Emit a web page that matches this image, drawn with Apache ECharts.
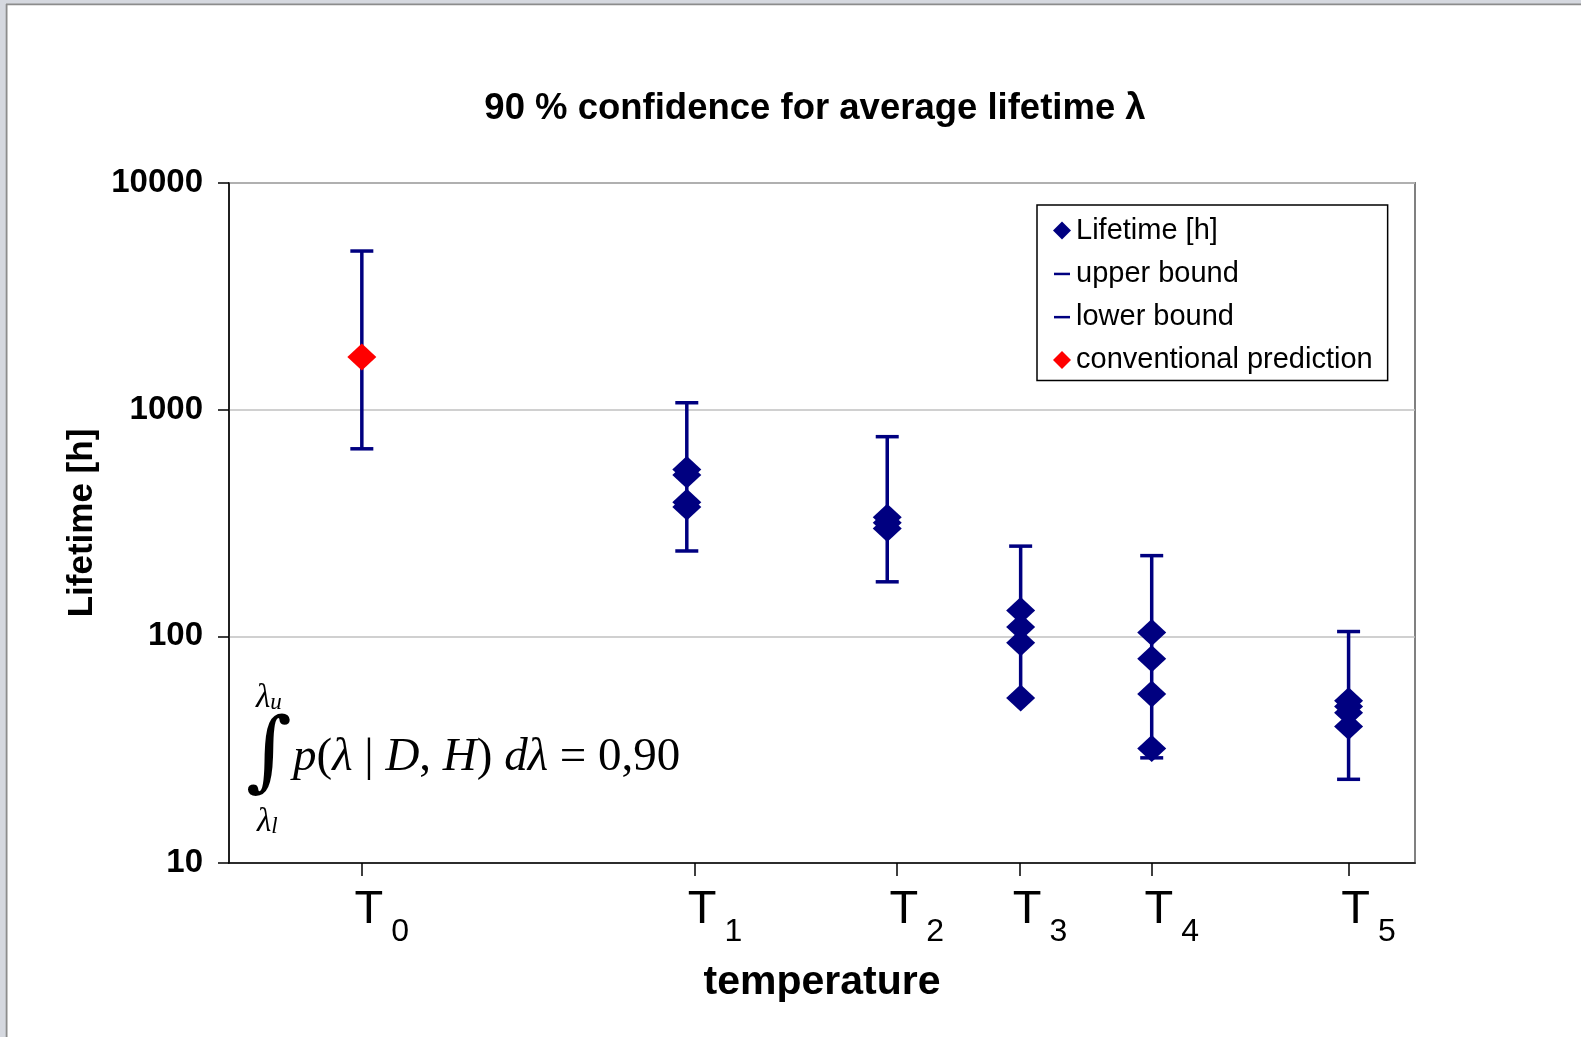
<!DOCTYPE html>
<html>
<head>
<meta charset="utf-8">
<script src="https://cdn.jsdelivr.net/npm/echarts@6/dist/echarts.min.js"></script>
<style>
  html, body { margin: 0; padding: 0; background: #fff; }
  #chart { width: 1581px; height: 1037px; }
</style>
</head>
<body>
<div id="chart"></div>
<script>
// x positions on a 0..100 temperature scale (ticks T0..T5)
const tickPos = [11.2, 39.3, 56.3, 66.7, 77.8, 94.4]
const tickSub = ['0', '1', '2', '3', '4', '5']
// x positions where the measurements are drawn
const pointX = [11.2, 38.6, 55.5, 66.75, 77.8, 94.4]

const upperBound = [5010, 1073, 760, 250, 227, 105]
const lowerBound = [672, 238, 174, 54, 29.1, 23.4]
const conventional = [1706]   // only at T0

// measured lifetimes [h] for each temperature
const lifetimes = [
  [],
  [545, 515, 390, 372],
  [335, 317, 299],
  [130, 110, 93.6, 53.5],
  [104, 79.6, 55.6, 32],
  [52, 49, 46, 40]
]

const NAVY = '#000080'
const SANS = "'Liberation Sans', Arial, sans-serif"
const SERIF = "'Liberation Serif', 'Times New Roman', serif"

const lifetimePts = []
lifetimes.forEach((arr, i) => arr.forEach(v => lifetimePts.push([pointX[i], v])))

// dash icon with a square bounding box so the legend does not stretch it
const dashIcon = 'path://M0,0L0,0M1,8L17,8L17,10.5L1,10.5ZM18,18L18,18'

const chart = echarts.init(document.getElementById('chart'))

chart.setOption({
  animation: false,
  backgroundColor: '#fff',
  title: {
    text: '90 % confidence for average lifetime λ',
    left: 815,
    top: 90,
    textAlign: 'center',
    padding: 0,
    textStyle: { fontFamily: SANS, fontSize: 36.5, fontWeight: 'bold', color: '#000' }
  },
  legend: {
    orient: 'vertical',
    left: 1037,
    top: 205,
    itemWidth: 18,
    itemHeight: 18,
    itemGap: 14.2,
    padding: [11, 15, 6, 16],
    borderColor: '#000',
    borderWidth: 1.5,
    backgroundColor: '#fff',
    selectedMode: false,
    textStyle: { fontFamily: SANS, fontSize: 29, color: '#000' },
    data: [
      { name: 'Lifetime [h]', icon: 'diamond' },
      { name: 'upper bound', icon: dashIcon },
      { name: 'lower bound', icon: dashIcon },
      { name: 'conventional prediction', icon: 'diamond' }
    ]
  },
  grid: {
    left: 229, top: 183, right: 166, bottom: 174,
    show: true, borderColor: '#808080', borderWidth: 2
  },
  xAxis: {
    type: 'value',
    min: 0, max: 100,
    name: 'temperature',
    nameLocation: 'middle',
    nameGap: 99,
    nameTextStyle: { fontFamily: SANS, fontSize: 41, fontWeight: 'bold', color: '#000' },
    axisLine: { lineStyle: { color: '#000', width: 1.5 } },
    axisTick: { customValues: tickPos, inside: false, length: 13, lineStyle: { color: '#000', width: 1.5 } },
    splitLine: { show: false },
    axisLabel: {
      customValues: tickPos,
      margin: 38,
      formatter: v => {
        let idx = 0
        tickPos.forEach((p, i) => { if (Math.abs(p - v) < Math.abs(tickPos[idx] - v)) idx = i })
        return '{t|T}{s|' + tickSub[idx] + '}'
      },
      rich: {
        t: { fontFamily: SANS, fontSize: 47, lineHeight: 47, color: '#000', verticalAlign: 'bottom', padding: [0, 0, 14, 40] },
        s: { fontFamily: SANS, fontSize: 32, lineHeight: 32, color: '#000', verticalAlign: 'bottom', padding: [0, 0, 0, 8] }
      }
    }
  },
  yAxis: {
    type: 'log',
    logBase: 10,
    min: 10, max: 10000,
    name: 'Lifetime [h]',
    nameLocation: 'middle',
    nameGap: 103,
    nameTextStyle: { fontFamily: SANS, fontSize: 35, fontWeight: 'bold', color: '#000' },
    axisLine: { show: true, lineStyle: { color: '#000', width: 1.5 } },
    axisTick: { show: true, length: 11, lineStyle: { color: '#000', width: 1.5 } },
    minorTick: { show: false },
    splitLine: { show: true, lineStyle: { color: '#c0c0c0', width: 1.5 } },
    axisLabel: {
      margin: 26, fontFamily: SANS, fontSize: 33, fontWeight: 'bold', color: '#000',
      formatter: v => String(Math.round(v))
    }
  },
  series: [
    {
      type: 'custom',
      name: 'range',
      silent: true,
      z: 1,
      data: pointX.map((x, i) => [x, lowerBound[i], upperBound[i]]),
      encode: { x: 0, y: [1, 2] },
      renderItem: (params, api) => {
        const lo = api.coord([api.value(0), api.value(1)])
        const hi = api.coord([api.value(0), api.value(2)])
        return {
          type: 'line',
          shape: { x1: lo[0], y1: lo[1], x2: hi[0], y2: hi[1] },
          style: { stroke: NAVY, lineWidth: 3.5 }
        }
      }
    },
    {
      type: 'scatter',
      name: 'upper bound',
      z: 2,
      symbol: 'rect',
      symbolSize: [23, 3.5],
      itemStyle: { color: NAVY, opacity: 1 },
      data: pointX.map((x, i) => [x, upperBound[i]])
    },
    {
      type: 'scatter',
      name: 'lower bound',
      z: 2,
      symbol: 'rect',
      symbolSize: [23, 3.5],
      itemStyle: { color: NAVY, opacity: 1 },
      data: pointX.map((x, i) => [x, lowerBound[i]])
    },
    {
      type: 'scatter',
      name: 'Lifetime [h]',
      z: 3,
      symbol: 'diamond',
      symbolSize: [29, 27],
      itemStyle: { color: NAVY, opacity: 1 },
      data: lifetimePts
    },
    {
      type: 'scatter',
      name: 'conventional prediction',
      z: 3,
      symbol: 'diamond',
      symbolSize: [29, 27],
      itemStyle: { color: '#ff0000', opacity: 1 },
      data: conventional.map(v => [pointX[0], v])
    }
  ],
  graphic: [
    // window frame strips of the original screenshot
    { type: 'rect', shape: { x: 0, y: 0, width: 1581, height: 4 }, style: { fill: '#d5d8df' }, silent: true },
    { type: 'rect', shape: { x: 0, y: 3.5, width: 1581, height: 1.8 }, style: { fill: '#8c8c8c' }, silent: true },
    { type: 'rect', shape: { x: 0, y: 0, width: 6, height: 1037 }, style: { fill: '#d5d8df' }, silent: true },
    { type: 'rect', shape: { x: 5.7, y: 4, width: 1.8, height: 1033 }, style: { fill: '#8c8c8c' }, silent: true },
    // credibility integral
    {
      type: 'text', x: 246, y: 757, silent: true,
      style: { text: '∫', fontFamily: "'DejaVu Serif', serif", fontSize: 88, fill: '#000', verticalAlign: 'middle' }
    },
    {
      type: 'text', x: 256, y: 698, silent: true,
      style: {
        text: '{l|λ}{s|u}', verticalAlign: 'middle', fill: '#000',
        rich: {
          l: { fontFamily: SERIF, fontStyle: 'italic', fontSize: 33, verticalAlign: 'bottom' },
          s: { fontFamily: SERIF, fontStyle: 'italic', fontSize: 23, verticalAlign: 'bottom' }
        }
      }
    },
    {
      type: 'text', x: 257, y: 822, silent: true,
      style: {
        text: '{l|λ}{s|l}', verticalAlign: 'middle', fill: '#000',
        rich: {
          l: { fontFamily: SERIF, fontStyle: 'italic', fontSize: 33, verticalAlign: 'bottom' },
          s: { fontFamily: SERIF, fontStyle: 'italic', fontSize: 23, verticalAlign: 'bottom' }
        }
      }
    },
    {
      type: 'text', x: 293, y: 758, silent: true,
      style: {
        text: '{i|p}{r|(}{i|λ}{r| | }{i|D}{r|, }{i|H}{r|)}{i| dλ}{r| = 0,90}',
        verticalAlign: 'middle', fill: '#000',
        fontFamily: SERIF, fontSize: 47,
        rich: {
          i: { fontFamily: SERIF, fontStyle: 'italic', fontSize: 47 },
          r: { fontFamily: SERIF, fontSize: 47 }
        }
      }
    }
  ]
})
</script>
</body>
</html>
